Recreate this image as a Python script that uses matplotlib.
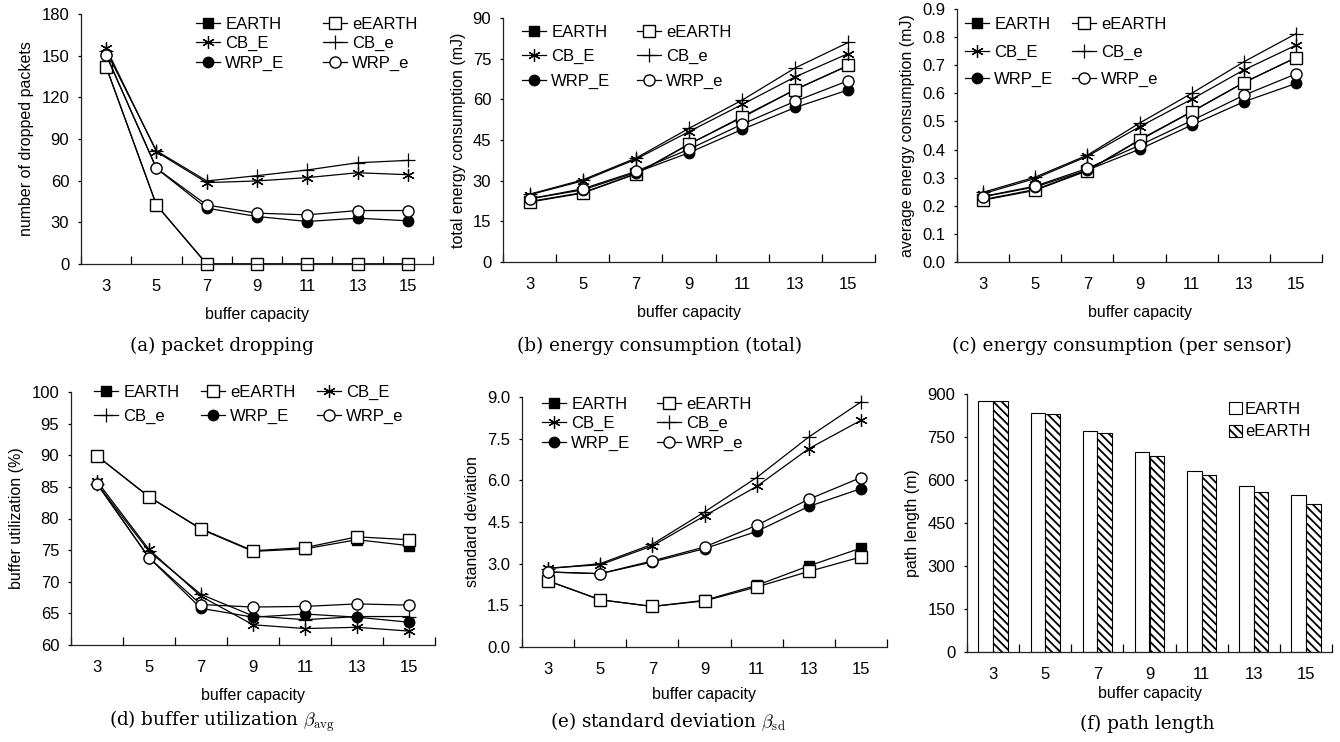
import numpy as np
import matplotlib.pyplot as plt

plt.rcParams['font.family'] = ['Liberation Sans', 'DejaVu Sans']
plt.rcParams['mathtext.fontset'] = 'cm'
plt.rcParams['hatch.linewidth'] = 1.3

capacity = ['3', '5', '7', '9', '11', '13', '15']
names = ['EARTH', 'eEARTH', 'CB_E', 'CB_e', 'WRP_E', 'WRP_e']

# (a) number of dropped packets
drop_EARTH = [142, 42.5, 0, 0, 0, 0, 0]
drop_eEARTH = [142, 42.5, 0, 0, 0, 0, 0]
drop_CB_E = [155.4, 80.8, 58.6, 59.8, 62.2, 65.7, 64.3]
drop_CB_e = [153.5, 81.5, 59.8, 63.6, 67.7, 72.9, 74.6]
drop_WRP_E = [150.6, 68.9, 40.2, 34.2, 30.6, 33.0, 31.1]
drop_WRP_e = [150.6, 68.9, 42.5, 36.6, 35.4, 38.5, 38.5]

# (b) total energy consumption (mJ)
tot_EARTH = [22.3, 25.6, 32.5, 43.5, 53.3, 63.6, 72.5]
tot_eEARTH = [22.1, 25.4, 32.5, 43.4, 53.6, 63.6, 72.5]
tot_CB_E = [24.8, 29.9, 37.9, 48.1, 58.1, 68.3, 76.9]
tot_CB_e = [25.0, 30.3, 38.3, 49.3, 59.7, 71.6, 81.0]
tot_WRP_E = [23.3, 26.6, 33.0, 40.3, 48.9, 57.0, 63.5]
tot_WRP_e = [23.3, 27.0, 33.4, 41.6, 50.8, 59.3, 66.9]

# (c) average energy consumption (mJ)
avg_EARTH = [0.222, 0.258, 0.325, 0.433, 0.534, 0.638, 0.727]
avg_eEARTH = [0.220, 0.255, 0.325, 0.435, 0.535, 0.638, 0.727]
avg_CB_E = [0.243, 0.297, 0.376, 0.481, 0.579, 0.683, 0.771]
avg_CB_e = [0.248, 0.302, 0.380, 0.494, 0.600, 0.712, 0.812]
avg_WRP_E = [0.232, 0.267, 0.327, 0.401, 0.487, 0.570, 0.635]
avg_WRP_e = [0.233, 0.270, 0.333, 0.415, 0.503, 0.593, 0.669]

# (d) buffer utilization (%)
util_EARTH = [89.9, 83.45, 78.3, 74.8, 75.2, 76.65, 75.7]
util_eEARTH = [89.9, 83.4, 78.4, 74.9, 75.4, 77.1, 76.65]
util_CB_E = [85.9, 75.1, 67.7, 63.2, 62.6, 62.8, 62.2]
util_CB_e = [85.5, 74.8, 68.0, 64.6, 64.0, 64.5, 64.5]
util_WRP_E = [85.5, 73.8, 65.8, 64.4, 64.9, 64.4, 63.6]
util_WRP_e = [85.5, 73.8, 66.4, 66.0, 66.1, 66.5, 66.3]

# (e) standard deviation
sd_EARTH = [2.38, 1.70, 1.46, 1.68, 2.22, 2.92, 3.56]
sd_eEARTH = [2.38, 1.70, 1.46, 1.66, 2.16, 2.72, 3.24]
sd_CB_E = [2.84, 2.96, 3.64, 4.72, 5.78, 7.14, 8.16]
sd_CB_e = [2.82, 3.00, 3.70, 4.86, 6.10, 7.56, 8.82]
sd_WRP_E = [2.70, 2.64, 3.06, 3.54, 4.16, 5.06, 5.70]
sd_WRP_e = [2.70, 2.64, 3.10, 3.60, 4.38, 5.32, 6.10]

# (f) path length (m)
path_EARTH = [874, 834, 770, 697, 633, 579, 547]
path_eEARTH = [874, 830, 764, 685, 617, 557, 516]

W, H = 1340, 742
fig = plt.figure(figsize=(W / 100, H / 100), dpi=100)

TICK_FS = 12
LABEL_FS = 11.5
LEG_FS = 12

markers = {
    'EARTH': dict(marker='s', mfc='black', ms=7),
    'eEARTH': dict(marker='s', mfc='white', ms=8),
    'CB_E': dict(marker=(6, 2, 0), mfc='none', ms=9, mew=0.9),
    'CB_e': dict(marker='+', mfc='none', ms=10, mew=0.9),
    'WRP_E': dict(marker='o', mfc='black', ms=7.5),
    'WRP_e': dict(marker='o', mfc='white', ms=8),
}


def box(l, t, r, b):
    return [l / W, 1 - b / H, (r - l) / W, (b - t) / H]


def style_axis(ax, ylim, step, fmt, xpad):
    ax.spines['top'].set_visible(False)
    ax.spines['right'].set_visible(False)
    for s in ['left', 'bottom']:
        ax.spines[s].set_linewidth(0.9)
        ax.spines[s].set_color('#222222')
    ax.set_xlim(-0.5, 6.5)
    ax.set_ylim(*ylim)
    ax.set_xticks(np.arange(-0.5, 7, 1))
    ax.set_xticklabels([])
    ax.set_xticks(np.arange(7), minor=True)
    ax.set_xticklabels(capacity, minor=True)
    ax.tick_params(axis='x', which='major', direction='in', length=6, width=0.9)
    ax.tick_params(axis='x', which='minor', length=0, pad=11, labelsize=TICK_FS)
    yt = np.arange(ylim[0], ylim[1] + step / 2, step)
    ax.set_yticks(yt)
    ax.set_yticklabels([fmt % v for v in yt])
    ax.tick_params(axis='y', direction='out', length=2.5, width=0.9, pad=6, labelsize=TICK_FS)
    ax.set_xlabel('buffer capacity', fontsize=LABEL_FS, labelpad=xpad)


def row_major(items, nrows, ncol):
    return [items[r * ncol + c] for c in range(ncol) for r in range(nrows)]


def line_panel(rect, data, ylim, step, fmt, ylabel, leg_xy, ncol, colsp, labsp, xpad=9):
    ax = fig.add_axes(box(*rect))
    x = np.arange(len(capacity))
    handles = []
    for name, vals in zip(names, data):
        h, = ax.plot(x, vals, color='black', lw=0.9, mec='black', label=name,
                     clip_on=False, **markers[name])
        handles.append(h)
    style_axis(ax, ylim, step, fmt, xpad)
    ax.set_ylabel(ylabel, fontsize=LABEL_FS, labelpad=5)
    nrows = int(np.ceil(len(handles) / ncol))
    hs = row_major(handles, nrows, ncol)
    fig.legend(hs, [h.get_label() for h in hs], loc='upper left',
               bbox_to_anchor=(leg_xy[0] / W, 1 - leg_xy[1] / H), ncol=ncol,
               frameon=False, fontsize=LEG_FS, handlelength=1.45, handletextpad=0.3,
               columnspacing=colsp, labelspacing=labsp, borderpad=0, borderaxespad=0)
    return ax


line_panel((81, 14, 433, 264),
           [drop_EARTH, drop_eEARTH, drop_CB_E, drop_CB_e, drop_WRP_E, drop_WRP_e],
           (0, 180), 30, '%d', 'number of dropped packets', (196, 17), 2, 2.3, 0.25)
line_panel((503, 18, 875, 262),
           [tot_EARTH, tot_eEARTH, tot_CB_E, tot_CB_e, tot_WRP_E, tot_WRP_e],
           (0, 90), 15, '%d', 'total energy consumption (mJ)', (522, 25), 2, 1.6, 0.55)
line_panel((957, 9, 1322, 262),
           [avg_EARTH, avg_eEARTH, avg_CB_E, avg_CB_e, avg_WRP_E, avg_WRP_e],
           (0, 0.9), 0.1, '%.1f', 'average energy consumption (mJ)', (965, 17), 2, 1.1, 0.75)
line_panel((71, 392, 435, 645),
           [util_EARTH, util_eEARTH, util_CB_E, util_CB_e, util_WRP_E, util_WRP_e],
           (60, 100), 5, '%d', 'buffer utilization (%)', (94, 385), 3, 1.3, 0.55)
line_panel((522, 397, 887, 647),
           [sd_EARTH, sd_eEARTH, sd_CB_E, sd_CB_e, sd_WRP_E, sd_WRP_e],
           (0, 9.0), 1.5, '%.1f', 'standard deviation', (542, 397), 2, 1.6, 0.25, xpad=7)

# (f) path length bars
axf = fig.add_axes(box(967, 394, 1332, 652))
xb = np.arange(len(capacity))
bw = 0.28
axf.bar(xb - bw / 2, path_EARTH, bw, color='white', edgecolor='black', lw=0.8, label='EARTH')
axf.bar(xb + bw / 2, path_eEARTH, bw, color='white', edgecolor='black', lw=0.8,
        hatch='\\\\\\\\', label='eEARTH')
style_axis(axf, (0, 900), 150, '%d', 3)
axf.set_ylabel('path length (m)', fontsize=LABEL_FS, labelpad=5)
hf, lf = axf.get_legend_handles_labels()
axf.legend(hf, lf, loc='upper left', bbox_to_anchor=(1229 / W, 1 - 402 / H),
           bbox_transform=fig.transFigure, frameon=False, fontsize=LEG_FS,
           handlelength=0.75, handleheight=0.75, handletextpad=0.2,
           labelspacing=0.45, borderpad=0, borderaxespad=0)

captions = [
    (222, 346, '(a) packet dropping'),
    (660, 346, '(b) energy consumption (total)'),
    (1122, 346, '(c) energy consumption (per sensor)'),
    (222, 722, r'(d) buffer utilization $\beta_{\rm avg}$'),
    (668, 722, r'(e) standard deviation $\beta_{\rm sd}$'),
    (1147, 724, '(f) path length'),
]
for cx, cy, txt in captions:
    fig.text(cx / W, 1 - cy / H, txt, ha='center', va='center',
             family='DejaVu Serif', fontsize=13.2)

fig.savefig('out.png', dpi=100)
